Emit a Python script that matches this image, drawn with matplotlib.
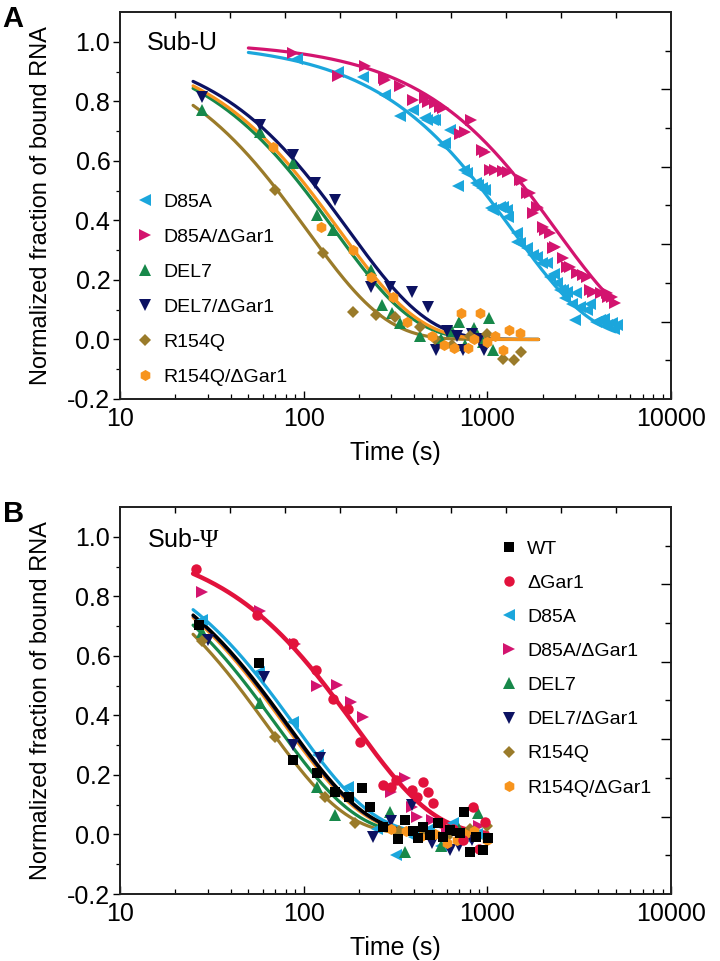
import numpy as np
import matplotlib
matplotlib.use("Agg")
import matplotlib.pyplot as plt
from matplotlib.ticker import FixedLocator, NullFormatter, LogLocator

plt.rcParams['font.family'] = ['Liberation Sans', 'DejaVu Sans']
plt.rcParams['mathtext.fontset'] = 'custom'
plt.rcParams['mathtext.rm'] = 'Liberation Serif'

# ---------------- colours / markers ----------------
C_WT = '#000000'
C_DG = '#E2123C'
C_D85 = '#1BA6DC'
C_D85G = '#D3146F'
C_DEL = '#17884A'
C_DELG = '#0C1262'
C_R154 = '#9A7B2A'
C_R154G = '#F7941D'

# ---------------- Panel A data (Sub-U) ----------------
a_d85_t = [92, 154, 210, 277, 334, 394, 458, 468, 509, 519, 574, 590, 627, 692, 750, 775,
           873, 889, 930, 971, 1050, 1074, 1170, 1218, 1280, 1296, 1445, 1449, 1506, 1640,
           1780, 1855, 1986, 2100, 2194, 2300, 2400, 2488, 2582, 2650, 2714, 2900, 3000,
           3050, 3200, 3490, 3600, 3900, 4090, 4300, 4500, 4760, 4900, 5060]
a_d85_y = [0.943, 0.900, 0.883, 0.820, 0.749, 0.771, 0.743, 0.738, 0.738, 0.738, 0.654, 0.660,
           0.704, 0.514, 0.570, 0.560, 0.526, 0.519, 0.509, 0.503, 0.442, 0.435, 0.446, 0.445,
           0.435, 0.412, 0.358, 0.328, 0.324, 0.308, 0.284, 0.278, 0.257, 0.256, 0.210, 0.220,
           0.190, 0.166, 0.166, 0.140, 0.160, 0.120, 0.066, 0.156, 0.110, 0.099, 0.120, 0.060,
           0.066, 0.070, 0.050, 0.055, 0.035, 0.049]

a_d85g_t = [87, 154, 216, 274, 277, 334, 395, 458, 474, 519, 550, 574, 710, 760, 810, 930,
            971, 1030, 1102, 1218, 1296, 1506, 1545, 1640, 1705, 1780, 1855, 1888, 2010,
            2062, 2194, 2280, 2335, 2582, 2714, 2818, 3070, 3320, 3490, 3620, 3760, 4170,
            4480, 4530, 4800, 4950]
a_d85g_y = [0.963, 0.886, 0.917, 0.878, 0.872, 0.852, 0.805, 0.811, 0.799, 0.794, 0.782,
            0.777, 0.690, 0.698, 0.738, 0.637, 0.631, 0.570, 0.570, 0.565, 0.563, 0.536,
            0.536, 0.492, 0.492, 0.425, 0.446, 0.442, 0.379, 0.368, 0.358, 0.308, 0.312,
            0.274, 0.244, 0.245, 0.223, 0.217, 0.210, 0.166, 0.160, 0.155, 0.156, 0.144,
            0.143, 0.122]

a_del_t = [28, 58, 87, 118, 145, 234, 266, 302, 334, 430, 560, 640, 700, 760, 850, 950, 1020, 1080]
a_del_y = [0.771, 0.698, 0.593, 0.418, 0.368, 0.234, 0.116, 0.088, 0.055, 0.010, 0.000,
           0.030, 0.060, -0.020, 0.040, -0.010, 0.072, -0.035]

a_delg_t = [28, 58, 87, 115, 148, 234, 295, 387, 475, 525, 600, 680, 740, 820, 900, 960]
a_delg_y = [0.816, 0.721, 0.620, 0.526, 0.469, 0.177, 0.177, 0.160, 0.110, -0.035, 0.030,
            0.010, -0.035, 0.020, 0.000, -0.035]

a_r154_t = [70, 127, 186, 249, 314, 430, 520, 640, 800, 1000, 1210, 1400, 1530]
a_r154_y = [0.503, 0.292, 0.093, 0.082, 0.077, 0.043, 0.000, -0.020, 0.010, 0.020, -0.067,
            -0.069, -0.041]

a_r154g_t = [68, 125, 186, 234, 306, 364, 500, 580, 660, 720, 785, 850, 912, 1000, 1100,
             1210, 1320, 1500]
a_r154g_y = [0.648, 0.379, 0.300, 0.211, 0.144, 0.060, 0.010, -0.020, -0.029, 0.089, -0.029,
             0.000, 0.090, -0.010, 0.010, -0.035, 0.032, 0.022]

# fitted single-exponential curves: amplitude, time constant (s), time range (s)
a_fit_amp = [1.0, 1.0, 1.0, 1.0, 1.0, 1.0]
a_fit_tau = [1365, 2370, 147, 175, 104, 156]
a_fit_start = [50, 50, 25, 25, 25, 25]
a_fit_end = [5000, 5000, 1900, 1900, 1900, 1900]

a_labels = ['D85A', 'D85A/\u0394Gar1', 'DEL7', 'DEL7/\u0394Gar1', 'R154Q', 'R154Q/\u0394Gar1']

# ---------------- Panel B data (Sub-Psi) ----------------
b_wt_t = [27, 57, 87, 118, 148, 177, 207, 229, 272, 326, 357, 394, 419, 444, 486, 536,
          574, 627, 710, 750, 800, 873, 945, 1010]
b_wt_y = [0.704, 0.577, 0.250, 0.208, 0.144, 0.125, 0.155, 0.091, 0.026, -0.016, 0.049,
          0.012, -0.012, 0.026, -0.002, 0.038, -0.007, 0.015, 0.004, 0.077, -0.058, -0.007,
          -0.052, -0.013]

b_dg_t = [26, 56, 87, 116, 145, 175, 203, 272, 300, 319, 387, 415, 444, 475, 505, 560,
          650, 740, 835, 900, 970]
b_dg_y = [0.891, 0.738, 0.643, 0.551, 0.455, 0.422, 0.312, 0.166, 0.160, 0.183, 0.150,
          0.127, 0.177, 0.141, 0.105, 0.040, 0.020, -0.020, 0.093, -0.050, 0.043]

b_d85g_t = [28, 58, 90, 118, 151, 182, 211, 298, 357, 387, 414, 500, 600, 750, 900]
b_d85g_y = [0.816, 0.749, 0.640, 0.500, 0.503, 0.446, 0.396, 0.144, 0.189, 0.093, 0.060,
            0.050, 0.020, 0.000, 0.030]

b_d85_t = [28, 57, 88, 120, 175, 250, 319, 400, 480, 560, 650, 760, 880]
b_d85_y = [0.720, 0.547, 0.379, 0.267, 0.161, 0.020, -0.069, -0.010, 0.020, -0.040, 0.040,
           -0.010, 0.000]

b_del_t = [28, 58, 118, 148, 297, 357, 450, 560, 700, 890]
b_del_y = [0.680, 0.443, 0.161, 0.066, 0.077, -0.058, 0.000, -0.040, 0.020, 0.071]

b_delg_t = [30, 61, 88, 122, 239, 298, 387, 500, 627, 700, 830]
b_delg_y = [0.654, 0.530, 0.301, 0.256, -0.009, 0.046, 0.099, -0.030, -0.052, -0.040, -0.020]

b_r154_t = [28, 70, 130, 190, 330, 450, 600, 800, 1000]
b_r154_y = [0.650, 0.329, 0.125, 0.038, 0.010, 0.000, -0.010, 0.020, 0.030]

b_r154g_t = [300, 360, 430, 520, 600, 680, 760, 850, 1000]
b_r154g_y = [0.020, 0.010, -0.010, 0.000, -0.030, -0.020, 0.000, 0.010, -0.020]

b_fit_amp = [1.0, 1.0, 1.0, 1.0, 1.0, 1.0, 1.0]
b_fit_tau = [82, 189, 89, 71, 81, 63, 79]
b_labels = ['WT', '\u0394Gar1', 'D85A', 'D85A/\u0394Gar1', 'DEL7', 'DEL7/\u0394Gar1',
            'R154Q', 'R154Q/\u0394Gar1']

# ---------------- figure ----------------
W, H = 720, 961
fig = plt.figure(figsize=(W / 100, H / 100), dpi=100)


def px_rect(l, t, r, b):
    return [l / W, 1 - b / H, (r - l) / W, (b - t) / H]


axA = fig.add_axes(px_rect(120, 12, 671, 399))
axB = fig.add_axes(px_rect(120, 507, 671, 894))

MS = {'<': 8.5, '>': 8.5, '^': 8.5, 'v': 8.5, 'D': 6.5, 'h': 8.0, 's': 6.5, 'o': 7.5}


def pts(ax, t, y, m, c, label=None, z=3):
    ax.plot(t, y, linestyle='none', marker=m, color=c, ms=MS[m], mew=0, label=label, zorder=z)


def curve(ax, amp, tau, t0, t1, c, lw=2.3, z=2):
    tt = np.logspace(np.log10(t0), np.log10(t1), 200)
    ax.plot(tt, amp * np.exp(-tt / tau), color=c, lw=lw, zorder=z, solid_capstyle='round')


def style(ax):
    ax.set_xscale('log')
    ax.set_xlim(10, 10000)
    ax.set_ylim(-0.2, 1.1)
    ax.xaxis.set_major_locator(FixedLocator([10, 100, 1000, 10000]))
    ax.xaxis.set_minor_locator(LogLocator(base=10, subs=np.arange(2, 10)))
    ax.xaxis.set_minor_formatter(NullFormatter())
    ax.set_xticklabels(['10', '100', '1000', '10000'])
    ax.set_yticks([-0.2, 0.0, 0.2, 0.4, 0.6, 0.8, 1.0])
    ax.set_yticklabels(['-0.2', '0.0', '0.2', '0.4', '0.6', '0.8', '1.0'])
    ax.set_yticks(np.arange(-0.1, 1.05, 0.2), minor=True)
    ax.tick_params(axis='x', which='major', direction='in', length=6, width=1.0, labelsize=18, pad=6)
    ax.tick_params(axis='x', which='minor', direction='in', length=3.5, width=0.9)
    ax.tick_params(axis='y', which='major', direction='out', length=5, width=1.0, labelsize=18, pad=2)
    ax.tick_params(axis='y', which='minor', direction='out', length=3, width=0.9)
    for s in ax.spines.values():
        s.set_linewidth(1.1)
        s.set_color('#222222')
    ax.set_xlabel('Time (s)', fontsize=18)
    ax.set_ylabel('Normalized fraction of bound RNA', fontsize=17)
    ax.xaxis.set_label_coords(0.5, -0.108)
    ax.yaxis.set_label_coords(-0.124, 0.5)
    # top and right frame ticks (independent linear scales)
    top = ax.twiny()
    top.set_xlim(0, 10)
    top.set_xticks(range(1, 10))
    top.tick_params(axis='x', direction='in', length=4, width=1.0, labeltop=False, top=True)
    right = ax.twinx()
    right.set_ylim(0, 10)
    right.set_yticks([2, 4, 6, 8])
    right.set_yticks([1, 3, 5, 7, 9], minor=True)
    right.tick_params(axis='y', which='major', direction='in', length=7, width=1.0, labelright=False)
    right.tick_params(axis='y', which='minor', direction='in', length=4, width=1.0)
    for t in (top, right):
        for s in t.spines.values():
            s.set_linewidth(1.1)
            s.set_color('#222222')


# ----- Panel A -----
a_series = [(a_d85_t, a_d85_y, '<', C_D85), (a_d85g_t, a_d85g_y, '>', C_D85G),
            (a_del_t, a_del_y, '^', C_DEL), (a_delg_t, a_delg_y, 'v', C_DELG),
            (a_r154_t, a_r154_y, 'D', C_R154), (a_r154g_t, a_r154g_y, 'h', C_R154G)]
for i, (t, y, m, c) in enumerate(a_series):
    curve(axA, a_fit_amp[i], a_fit_tau[i], a_fit_start[i], a_fit_end[i], c)
for i, (t, y, m, c) in enumerate(a_series):
    pts(axA, t, y, m, c, label=a_labels[i])

axA.text(0.049, 0.92, 'Sub-U', transform=axA.transAxes, fontsize=18, ha='left', va='center')
legA = axA.legend(loc='upper left', bbox_to_anchor=(135 / W, 1 - 193 / H),
                  bbox_transform=fig.transFigure, frameon=False, fontsize=14,
                  handlelength=1.0, handletextpad=0.45, labelspacing=0.9, borderpad=0,
                  borderaxespad=0, markerscale=1.0)

# ----- Panel B -----
b_series = [(b_wt_t, b_wt_y, 's', C_WT), (b_dg_t, b_dg_y, 'o', C_DG),
            (b_d85_t, b_d85_y, '<', C_D85), (b_d85g_t, b_d85g_y, '>', C_D85G),
            (b_del_t, b_del_y, '^', C_DEL), (b_delg_t, b_delg_y, 'v', C_DELG),
            (b_r154_t, b_r154_y, 'D', C_R154), (b_r154g_t, b_r154g_y, 'h', C_R154G)]
curve_cols = [C_WT, C_DG, C_D85, C_DEL, C_DELG, C_R154, C_R154G]
curve_z = [2.6, 2.7, 2.2, 2.3, 2.5, 2.1, 2.4]
for i, c in enumerate(curve_cols):
    curve(axB, b_fit_amp[i], b_fit_tau[i], 25, 1000, c, lw=3.2 if c == C_DG else 2.3, z=curve_z[i])
order = [2, 3, 4, 5, 6, 7, 1, 0]
for i in order:
    t, y, m, c = b_series[i]
    pts(axB, t, y, m, c, label=b_labels[i], z=3 + (1 if i == 0 else 0))
handles, labels = axB.get_legend_handles_labels()
hmap = dict(zip(labels, handles))
axB.text(0.049, 0.915, 'Sub-$\\Psi$', transform=axB.transAxes, fontsize=18, ha='left', va='center')
legB = axB.legend([hmap[l] for l in b_labels], b_labels, loc='upper left',
                  bbox_to_anchor=(499 / W, 1 - 540 / H), bbox_transform=fig.transFigure,
                  frameon=False, fontsize=14, handlelength=1.0, handletextpad=0.45,
                  labelspacing=0.85, borderpad=0, borderaxespad=0)

for ax in (axA, axB):
    style(ax)

fig.text(2 / W, 1 - 19 / H, 'A', fontsize=21, fontweight='bold', ha='left', va='center')
fig.text(3 / W, 1 - 514 / H, 'B', fontsize=21, fontweight='bold', ha='left', va='center')

fig.savefig('out.png', dpi=100)
